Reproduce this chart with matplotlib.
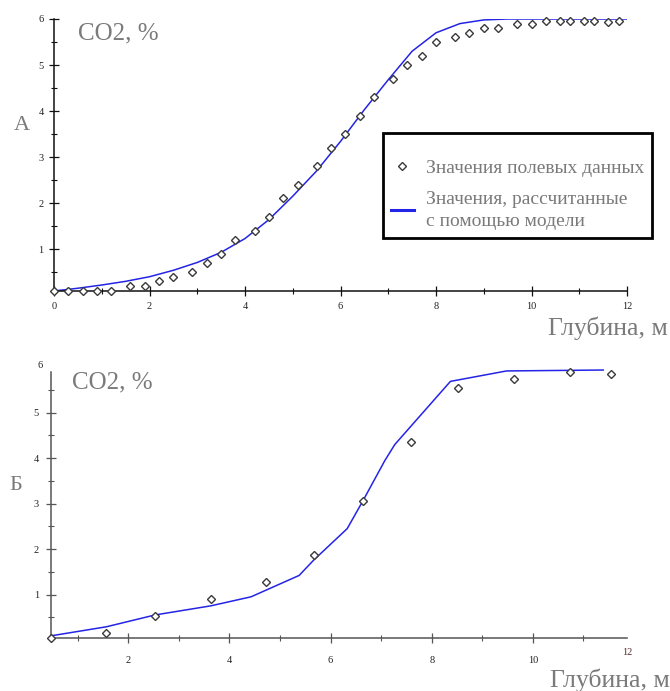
# CO2 concentration vs depth: field data against model (two panels)

import matplotlib
matplotlib.use('Agg')
import matplotlib.pyplot as plt
from matplotlib.ticker import MultipleLocator

plt.rcParams['font.family'] = ['Liberation Serif', 'DejaVu Serif']

# Panel A - field measurements
depth_a = [0.0, 0.3, 0.6, 0.9, 1.2, 1.6, 1.9, 2.2, 2.5, 2.9, 3.2, 3.5, 3.8,
           4.2, 4.5, 4.8, 5.1, 5.5, 5.8, 6.1, 6.4, 6.7, 7.1, 7.4, 7.7, 8.0,
           8.4, 8.7, 9.0, 9.3, 9.7, 10.0, 10.3, 10.6, 10.8, 11.1, 11.3,
           11.6, 11.84]
co2_a = [0.1, 0.1, 0.1, 0.1, 0.1, 0.2, 0.2, 0.3, 0.4, 0.5, 0.7, 0.9, 1.2,
         1.4, 1.7, 2.1, 2.4, 2.8, 3.2, 3.5, 3.9, 4.3, 4.7, 5.0, 5.2, 5.5,
         5.6, 5.7, 5.8, 5.8, 5.9, 5.9, 5.96, 5.96, 5.96, 5.96, 5.96,
         5.93, 5.96]

# Panel A - model curve
model_depth_a = [0.0, 0.5, 1.0, 1.5, 2.0, 2.5, 3.0, 3.5, 4.0, 4.5, 5.0, 5.5,
                 6.0, 6.5, 7.0, 7.5, 8.0, 8.5, 9.0, 9.5, 10.0, 11.0, 12.0]
model_co2_a = [0.09, 0.15, 0.22, 0.30, 0.40, 0.54, 0.71, 0.93, 1.23, 1.64,
               2.15, 2.70, 3.34, 4.03, 4.68, 5.30, 5.70, 5.90, 5.98, 6.0,
               6.0, 6.0, 6.0]

# Panel B - field measurements
depth_b = [0.47, 1.57, 2.53, 3.63, 4.73, 5.67, 6.64, 7.59, 8.52, 9.63,
           10.73, 11.55]
co2_b = [0.05, 0.15, 0.52, 0.90, 1.28, 1.88, 3.06, 4.35, 5.54, 5.74, 5.89,
         5.86]

# Panel B - model
model_depth_b = [0.47, 1.57, 2.53, 3.63, 4.43, 5.38, 5.67, 6.33, 6.64, 7.07,
                 7.27, 8.37, 9.48, 11.39]
model_co2_b = [0.09, 0.29, 0.55, 0.75, 0.95, 1.42, 1.76, 2.45, 3.06, 3.94,
               4.30, 5.69, 5.92, 5.94]

GREY = '#7a7a7a'
BLUE = '#2424e6'
MARK = dict(linestyle='none', marker='D', markersize=3.8,
            markerfacecolor='white', markeredgecolor='#3a3a3a',
            markeredgewidth=1.0)

fig = plt.figure(figsize=(6.7, 6.91), dpi=100, facecolor='white')


def style_axes(ax, axis_color, xpad, ypad):
    for side in ('top', 'right'):
        ax.spines[side].set_visible(False)
    for side in ('left', 'bottom'):
        ax.spines[side].set_color(axis_color)
        ax.spines[side].set_linewidth(1.1)
    ax.xaxis.set_minor_locator(MultipleLocator(1))
    ax.yaxis.set_minor_locator(MultipleLocator(0.5))
    ax.tick_params(which='major', direction='inout', length=7, width=0.9,
                   color=axis_color, labelsize=7.5, labelcolor='#222222')
    ax.tick_params(which='minor', direction='inout', length=4, width=0.8,
                   color=axis_color)
    ax.tick_params(axis='x', which='major', pad=xpad)
    ax.tick_params(axis='y', which='major', pad=ypad)


# ---- panel A
ax1 = fig.add_axes([54/670, 1-291/691, (627-54)/670, (291-19)/691])
ax1.plot(model_depth_a, model_co2_a, color=BLUE, lw=1.1, zorder=2,
         label='Значения, рассчитанные\nс помощью модели')
ax1.plot(depth_a, co2_a, zorder=3, label='Значения полевых данных',
         clip_on=False, **MARK)
ax1.set_xlim(0, 12)
ax1.set_ylim(0.09, 6)
ax1.set_xticks([0, 2, 4, 6, 8, 10, 12])
ax1.set_yticks([1, 2, 3, 4, 5, 6])
style_axes(ax1, '#111111', 4.5, 4)

handles, labels = ax1.get_legend_handles_labels()
leg = fig.legend(handles[::-1], labels[::-1],
                 loc='upper left', bbox_to_anchor=(383/670, 1-133/691),
                 bbox_transform=fig.transFigure,
                 prop={'family': 'Liberation Serif', 'size': 14},
                 labelcolor=GREY, frameon=True, fancybox=False,
                 edgecolor='black', framealpha=1, borderpad=0.4,
                 handlelength=1.2, handletextpad=0.6, labelspacing=0.7,
                 title=' ', title_fontsize=5, borderaxespad=0)
leg.get_frame().set_linewidth(2.0)
for t in leg.get_texts():
    t.set_linespacing(1.45)
for ln in leg.get_lines():
    if ln.get_marker() in ('None', None, ''):
        ln.set_linewidth(2.2)

fig.text(78/670, 1-39/691, 'CO2, %', color=GREY, fontsize=18,
         va='baseline', ha='left')
fig.text(22/670, 1-125/691, 'А', color=GREY, fontsize=16,
         va='center', ha='center')
fig.text(548/670, 1-335/691, 'Глубина, м', color=GREY, fontsize=18.5,
         va='baseline', ha='left')

# ---- panel B
ax2 = fig.add_axes([50.7/670, 1-637.7/691, (627-50.7)/670,
                    (637.7-372.3)/691])
ax2.plot(model_depth_b, model_co2_b, color=BLUE, lw=1.1, zorder=2,
         clip_on=False)
ax2.plot(depth_b, co2_b, zorder=3, clip_on=False, **MARK)
ax2.set_xlim(0.47, 11.86)
ax2.set_ylim(0.05, 5.89)
ax2.set_xticks([2, 4, 6, 8, 10])
ax2.set_yticks([1, 2, 3, 4, 5])
style_axes(ax2, '#555555', 10, 5)

# end-of-axis labels as drawn in the source figure
ax2.annotate('12', xy=(1, 0), xycoords='axes fraction', xytext=(0, -11),
             textcoords='offset points', ha='center', va='center',
             fontsize=7.5, color='#5a2a2a')
ax2.annotate('6', xy=(0, 1), xycoords='axes fraction', xytext=(-6, 5),
             textcoords='offset points', ha='right', va='center',
             fontsize=7.5, color='#222222')

fig.text(71.7/670, 1-388/691, 'CO2, %', color=GREY, fontsize=18,
         va='baseline', ha='left')
fig.text(15.5/670, 1-485/691, 'Б', color=GREY, fontsize=16,
         va='center', ha='center')
fig.text(550/670, 1-687/691, 'Глубина, м', color=GREY, fontsize=18.5,
         va='baseline', ha='left')

fig.savefig('out.png', dpi=100)
